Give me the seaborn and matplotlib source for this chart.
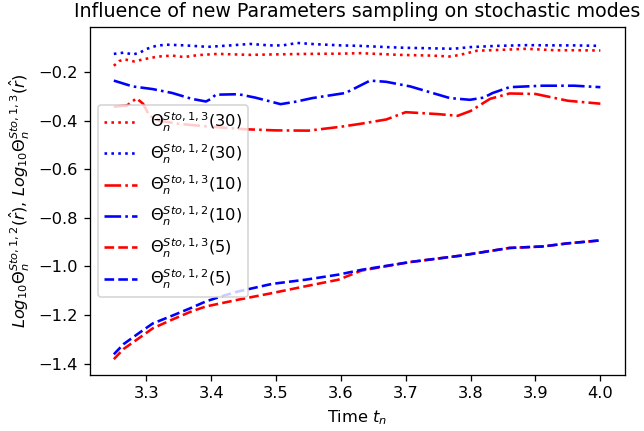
import matplotlib
matplotlib.use("Agg")
import matplotlib.pyplot as plt
import seaborn as sns

# Theta^{Sto,1,3}(30)
x_13_30 = [3.25, 3.258, 3.266, 3.281, 3.30, 3.318, 3.34, 3.358, 3.38, 3.41, 3.46, 3.5, 3.55,
           3.6, 3.63, 3.69, 3.74, 3.77, 3.79, 3.81, 3.85, 3.886, 3.93, 3.96, 4.0]
y_13_30 = [-0.174, -0.155, -0.147, -0.156, -0.145, -0.136, -0.132, -0.138, -0.13, -0.125, -0.129,
           -0.127, -0.125, -0.124, -0.122, -0.129, -0.132, -0.136, -0.125, -0.112, -0.108, -0.104,
           -0.11, -0.11, -0.111]

# Theta^{Sto,1,2}(30)
x_12_30 = [3.25, 3.265, 3.28, 3.29, 3.30, 3.315, 3.33, 3.36, 3.395, 3.43, 3.46, 3.49, 3.51, 3.533,
           3.56, 3.6, 3.63, 3.67, 3.70, 3.74, 3.773, 3.80, 3.84, 3.886, 3.93, 3.96, 4.0]
y_12_30 = [-0.125, -0.12, -0.127, -0.12, -0.105, -0.092, -0.087, -0.09, -0.096, -0.09, -0.084,
           -0.09, -0.09, -0.08, -0.085, -0.09, -0.092, -0.097, -0.10, -0.102, -0.104, -0.097,
           -0.092, -0.089, -0.09, -0.09, -0.092]

# Theta^{Sto,1,3}(10)
x_13_10 = [3.25, 3.27, 3.285, 3.295, 3.305, 3.32, 3.35, 3.40, 3.45, 3.50, 3.55, 3.60, 3.63, 3.67,
           3.70, 3.75, 3.78, 3.80, 3.83, 3.86, 3.90, 3.95, 4.0]
y_13_10 = [-0.342, -0.338, -0.308, -0.33, -0.38, -0.40, -0.413, -0.425, -0.435, -0.44, -0.441,
           -0.425, -0.413, -0.395, -0.365, -0.373, -0.38, -0.36, -0.31, -0.288, -0.29, -0.318, -0.33]

# Theta^{Sto,1,2}(10)
x_12_10 = [3.25, 3.279, 3.31, 3.34, 3.37, 3.392, 3.40, 3.407, 3.442, 3.468, 3.49, 3.507, 3.53,
           3.556, 3.607, 3.622, 3.645, 3.67, 3.707, 3.74, 3.768, 3.799, 3.82, 3.834, 3.86, 3.911,
           3.96, 4.0]
y_12_10 = [-0.235, -0.259, -0.27, -0.286, -0.31, -0.321, -0.31, -0.293, -0.291, -0.305, -0.32,
           -0.332, -0.322, -0.307, -0.286, -0.266, -0.235, -0.24, -0.259, -0.285, -0.307, -0.314,
           -0.305, -0.286, -0.262, -0.256, -0.256, -0.262]

# Theta^{Sto,1,3}(5)
x_13_5 = [3.25, 3.265, 3.289, 3.31, 3.34, 3.37, 3.392, 3.442, 3.494, 3.545, 3.596, 3.632, 3.707,
          3.784, 3.86, 3.911, 3.95, 4.0]
y_13_5 = [-1.382, -1.34, -1.295, -1.255, -1.219, -1.185, -1.165, -1.137, -1.110, -1.082, -1.055,
          -1.017, -0.982, -0.956, -0.924, -0.918, -0.905, -0.893]

# Theta^{Sto,1,2}(5)
x_12_5 = [3.25, 3.265, 3.289, 3.31, 3.34, 3.37, 3.392, 3.42, 3.442, 3.494, 3.545, 3.596, 3.632,
          3.707, 3.784, 3.86, 3.911, 3.95, 4.0]
y_12_5 = [-1.362, -1.32, -1.274, -1.235, -1.203, -1.17, -1.144, -1.12, -1.103, -1.072, -1.055,
          -1.034, -1.014, -0.982, -0.956, -0.924, -0.918, -0.905, -0.893]

series = [
    (x_13_30, y_13_30, "red", ":", r"$\Theta_n^{Sto,1,3}(30)$"),
    (x_12_30, y_12_30, "blue", ":", r"$\Theta_n^{Sto,1,2}(30)$"),
    (x_13_10, y_13_10, "red", "-.", r"$\Theta_n^{Sto,1,3}(10)$"),
    (x_12_10, y_12_10, "blue", "-.", r"$\Theta_n^{Sto,1,2}(10)$"),
    (x_13_5, y_13_5, "red", "--", r"$\Theta_n^{Sto,1,3}(5)$"),
    (x_12_5, y_12_5, "blue", "--", r"$\Theta_n^{Sto,1,2}(5)$"),
]

dpi = 117
fig, ax = plt.subplots(figsize=(644 / dpi, 431 / dpi), dpi=dpi)
fig.subplots_adjust(left=0.139, right=0.970, top=0.937, bottom=0.130)

for xs, ys, col, ls, lab in series:
    sns.lineplot(x=xs, y=ys, ax=ax, color=col, linestyle=ls, linewidth=1.6, label=lab)

ax.legend(loc="center left")
ax.set_title("Influence of new Parameters sampling on stochastic modes", fontsize=11.7)
ax.set_xlabel("Time $t_n$")
ax.set_ylabel(r"$Log_{10}\Theta_n^{Sto,1,2}(\hat{r})$, $Log_{10}\Theta_n^{Sto,1,3}(\hat{r})$")

fig.savefig("out.png", dpi=dpi)
